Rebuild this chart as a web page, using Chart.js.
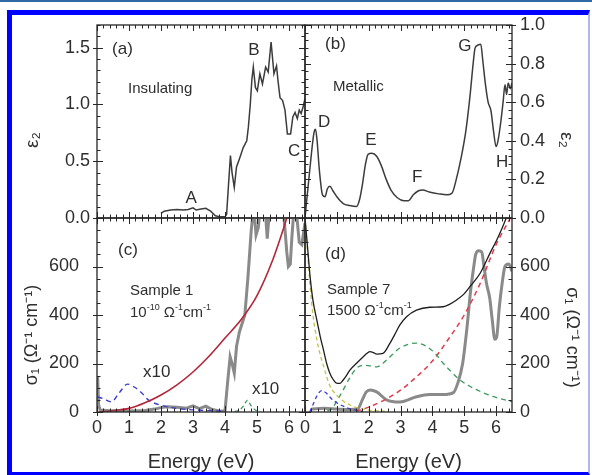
<!DOCTYPE html>
<html>
<head>
<meta charset="UTF-8">
<title>Dielectric function and optical conductivity</title>
<script src="https://cdn.jsdelivr.net/npm/chart.js"></script>
<style>
  body { margin: 0; background: #fff; }
  #wrap { position: relative; width: 592px; height: 475px; overflow: hidden; }
  #topline { position: absolute; left: 0; top: 0; width: 592px; height: 2px; background: #2f6aa6; }
  #frame { position: absolute; left: 7px; top: 10px; width: 576px; height: 457px;
           border-left: 5px solid #0000ff; border-top: 5px solid #0000ff;
           border-right: 2px solid #b4b4f0; border-bottom: 3px solid #0000ff; }
  canvas { position: absolute; left: 0; top: 0; }
</style>
</head>
<body>
<div id="wrap">
  <div id="topline"></div>
  <div id="frame"></div>
  <canvas id="pa" width="592" height="475"></canvas>
  <canvas id="pb" width="592" height="475"></canvas>
  <canvas id="pc" width="592" height="475"></canvas>
  <canvas id="pd" width="592" height="475"></canvas>
</div>
<script>
// (a) eps2, insulating
const aEnergy = [2.0, 2.1, 2.3, 2.5, 2.7, 2.85, 3.0, 3.1, 3.25, 3.4, 3.55, 3.7, 3.85, 4.0, 4.05, 4.1, 4.17, 4.22, 4.29, 4.36,
                 4.45, 4.57, 4.68, 4.73, 4.79, 4.84, 4.885, 4.95, 5.01, 5.09, 5.17, 5.27, 5.35, 5.44, 5.53, 5.61, 5.66, 5.72, 5.8, 5.875,
                 5.95, 6.05, 6.12, 6.19, 6.26, 6.32, 6.38, 6.44, 6.5];
const aEps2 = [0.04, 0.06, 0.07, 0.075, 0.07, 0.075, 0.09, 0.07, 0.08, 0.085, 0.06, 0.02, 0.01, 0.01, 0.03, 0.25, 0.55, 0.4, 0.27, 0.45,
               0.52, 0.62, 0.68, 0.8, 1.0, 1.22, 1.33, 1.15, 1.12, 1.27, 1.18, 1.33, 1.285, 1.55, 1.27, 1.34, 1.2, 1.06, 1.035, 0.95,
               0.74, 0.74, 0.89, 0.93, 0.875, 0.95, 0.92, 0.98, 1.05];

// (b) eps2, metallic
const bEnergy = [0.0, 0.15, 0.28, 0.33, 0.38, 0.45, 0.55, 0.63, 0.7, 0.78, 0.88, 1.0, 1.2, 1.4, 1.62, 1.72, 1.8, 1.9, 1.98, 2.1,
                 2.25, 2.4, 2.55, 2.7, 2.9, 3.1, 3.25, 3.4, 3.55, 3.7, 3.9, 4.2, 4.45, 4.62, 4.75, 4.9, 5.05, 5.18, 5.28, 5.34,
                 5.42, 5.52, 5.58, 5.66, 5.75, 5.84, 5.92, 6.0, 6.06, 6.15, 6.22, 6.28, 6.33, 6.38, 6.45, 6.5];
const bEps2 = [0.0, 0.25, 0.44, 0.46, 0.4, 0.25, 0.12, 0.11, 0.15, 0.165, 0.14, 0.11, 0.075, 0.065, 0.06, 0.1, 0.17, 0.28, 0.33, 0.335,
               0.32, 0.27, 0.2, 0.145, 0.105, 0.09, 0.09, 0.12, 0.14, 0.145, 0.135, 0.125, 0.12, 0.13, 0.2, 0.31, 0.45, 0.63, 0.8, 0.88,
               0.895, 0.9, 0.82, 0.7, 0.6, 0.555, 0.45, 0.37, 0.4, 0.5, 0.6, 0.69, 0.64, 0.7, 0.67, 0.7];

// (c) sigma1, sample 1
const cExpE = [0.02, 0.05, 0.1, 0.5, 1.0, 1.5, 1.8, 2.0, 2.2, 2.5, 2.8, 3.0, 3.2, 3.4, 3.6, 3.85, 4.0, 4.08, 4.16, 4.22,
               4.29, 4.36, 4.45, 4.62, 4.72, 4.82, 4.9, 4.97, 5.04, 5.12, 5.25, 5.32, 5.4, 5.6, 5.8, 5.87, 5.93, 5.98, 6.04, 6.09,
               6.15, 6.25, 6.32, 6.4, 6.5];
const cExpS = [145, 30, 8, 4, 4, 6, 12, 18, 22, 20, 16, 25, 14, 24, 10, 3, 5, 120, 228, 200,
               160, 270, 330, 400, 560, 750, 850, 730, 760, 860, 850, 715, 850, 900, 860, 760, 660, 600, 610, 720,
               830, 800, 700, 690, 780];
const cFitE = [0.1, 0.5, 1.0, 1.5, 2.0, 2.5, 3.0, 3.5, 4.0, 4.5, 5.0, 5.5, 5.8, 6.0];
const cFitS = [0, 6, 15, 38, 70, 112, 165, 230, 305, 380, 480, 630, 745, 830];
const cBlueE = [0.02, 0.2, 0.45, 0.7, 0.95, 1.2, 1.4, 1.6, 2.0, 2.6, 3.1, 3.6, 4.0];
const cBlueS = [62, 55, 42, 80, 115, 100, 78, 50, 28, 13, 8, 5, 3];
const cGreenE = [4.3, 4.45, 4.58, 4.7, 4.82, 4.95, 5.1];
const cGreenS = [2, 8, 25, 48, 25, 8, 2];

// (d) sigma1, sample 7
const dExpE = [0.2, 0.6, 1.0, 1.4, 1.65, 1.8, 1.92, 2.04, 2.25, 2.56, 2.98, 3.5, 3.92, 4.34, 4.66, 4.8, 4.95, 5.08, 5.2, 5.3,
               5.36, 5.45, 5.55, 5.62, 5.7, 5.8, 5.88, 5.96, 6.02, 6.1, 6.2, 6.28, 6.4, 6.5];
const dExpS = [12, 15, 12, 10, 12, 50, 82, 91, 83, 50, 41, 63, 72, 72, 80, 120, 200, 340, 500, 600,
               650, 665, 660, 600, 530, 470, 380, 300, 310, 430, 540, 600, 610, 580];
const dTotE = [0.0, 0.08, 0.16, 0.25, 0.37, 0.48, 0.58, 0.68, 0.78, 0.88, 0.99, 1.1, 1.2, 1.3, 1.41, 1.62, 1.83, 1.95, 2.04, 2.15,
               2.25, 2.45, 2.67, 2.82, 2.98, 3.19, 3.5, 3.92, 4.34, 4.55, 4.76, 4.98, 5.18, 5.5, 5.81, 6.07, 6.32, 6.4];
const dTotS = [800, 680, 558, 460, 380, 310, 256, 200, 160, 135, 119, 118, 132, 150, 173, 201, 228, 242, 249, 245,
               239, 242, 284, 320, 359, 393, 420, 432, 434, 445, 462, 485, 517, 572, 655, 723, 800, 830];
const dDrudeE = [0.0, 0.08, 0.16, 0.25, 0.37, 0.48, 0.58, 0.78, 0.99, 1.2, 1.4, 1.62, 2.0, 2.5];
const dDrudeS = [800, 660, 520, 400, 300, 235, 190, 108, 70, 45, 30, 18, 8, 3];
const dBlueE = [0.15, 0.25, 0.38, 0.52, 0.65, 0.83, 1.0, 1.2, 1.5, 1.8];
const dBlueS = [0, 30, 68, 88, 80, 55, 38, 24, 10, 3];
const dGreenE = [0.7, 0.85, 1.0, 1.2, 1.4, 1.62, 1.83, 2.04, 2.25, 2.56, 2.98, 3.5, 3.82, 4.1, 4.34, 4.6, 4.87, 5.15, 5.4, 5.92, 6.5];
const dGreenS = [3, 15, 45, 91, 140, 181, 193, 190, 186, 214, 264, 284, 270, 240, 201, 165, 132, 108, 91, 63, 43];
const dRedE = [1.6, 2.0, 2.5, 3.0, 3.5, 4.0, 4.5, 5.0, 5.5, 6.0, 6.45];
const dRedS = [3, 20, 50, 90, 145, 210, 300, 400, 530, 690, 800];

// in-plot labels, placed in data coordinates
const notesA = [
  { x: 0.47, y: 1.49, parts: [['(a)']], size: 17 },
  { x: 0.97, y: 1.14, parts: [['Insulating']], size: 15 },
  { x: 2.94, y: 0.175, parts: [['A']], size: 17, center: true },
  { x: 4.9, y: 1.48, parts: [['B']], size: 17, center: true },
  { x: 6.16, y: 0.59, parts: [['C']], size: 17, center: true }
];
const notesB = [
  { x: 0.63, y: 0.9, parts: [['(b)']], size: 17 },
  { x: 0.88, y: 0.68, parts: [['Metallic']], size: 15 },
  { x: 0.6, y: 0.495, parts: [['D']], size: 17, center: true },
  { x: 2.07, y: 0.4, parts: [['E']], size: 17, center: true },
  { x: 3.52, y: 0.21, parts: [['F']], size: 17, center: true },
  { x: 5.02, y: 0.887, parts: [['G']], size: 17, center: true },
  { x: 6.19, y: 0.287, parts: [['H']], size: 17, center: true }
];
const notesC = [
  { x: 0.66, y: 666, parts: [['(c)']], size: 17 },
  { x: 1.03, y: 499, parts: [['Sample 1']], size: 15 },
  { x: 1.03, y: 408, parts: [['10'], ['-10', 1], [' \u03A9'], ['-1', 1], ['cm'], ['-1', 1]], size: 15 },
  { x: 1.44, y: 165, parts: [['x10']], size: 17 },
  { x: 4.84, y: 95, parts: [['x10']], size: 17 }
];
const notesD = [
  { x: 0.63, y: 652, parts: [['(d)']], size: 17 },
  { x: 0.69, y: 503, parts: [['Sample 7']], size: 15 },
  { x: 0.69, y: 416, parts: [['1500 \u03A9'], ['-1', 1], ['cm'], ['-1', 1]], size: 15 }
];

const FONT = '"Liberation Sans", Arial, sans-serif';
Chart.defaults.font.family = FONT;
Chart.defaults.color = '#2e2e2e';

function pts(xs, ys) {
  return xs.map((x, i) => ({ x: x, y: ys[i] }));
}

function line(data, color, width, dash, smooth) {
  return {
    data: data,
    borderColor: color,
    borderWidth: width,
    borderDash: dash || [],
    pointRadius: 0,
    fill: false,
    cubicInterpolationMode: smooth ? 'monotone' : 'default',
    tension: 0
  };
}

function eachTick(min, max, minor, major, fn) {
  const n = Math.round((max - min) / minor);
  for (let i = 0; i <= n; i++) {
    const v = min + i * minor;
    if (v > max + 1e-9) break;
    const r = v / major;
    fn(v, Math.abs(r - Math.round(r)) < 1e-6);
  }
}

// frame, in/out ticks and in-plot text
const boxPlugin = {
  id: 'box',
  afterDraw(chart, args, o) {
    const { ctx, chartArea: ca } = chart;
    const xs = chart.scales.x, ys = chart.scales.y;
    ctx.save();
    ctx.strokeStyle = '#262626';
    ctx.lineWidth = 1.3;
    ctx.strokeRect(ca.left, ca.top, ca.right - ca.left, ca.bottom - ca.top);
    ctx.lineWidth = 1;
    ctx.beginPath();
    eachTick(xs.min, xs.max, o.xMinor, 1, (v, major) => {
      const px = Math.round(xs.getPixelForValue(v)) + 0.5;
      const len = major ? 6 : 3.5;
      ctx.moveTo(px, ca.bottom); ctx.lineTo(px, ca.bottom - len);
      ctx.moveTo(px, ca.top); ctx.lineTo(px, ca.top + len);
      if (major && o.xOut) { ctx.moveTo(px, ca.bottom); ctx.lineTo(px, ca.bottom + 4); }
    });
    eachTick(ys.min, ys.max, o.yMinor, o.yMajor, (v, major) => {
      const py = Math.round(ys.getPixelForValue(v)) + 0.5;
      const len = major ? 6 : 3.5;
      ctx.moveTo(ca.left, py); ctx.lineTo(ca.left + len, py);
      ctx.moveTo(ca.right, py); ctx.lineTo(ca.right - len, py);
      if (major) {
        if (o.ySide === 'left') { ctx.moveTo(ca.left, py); ctx.lineTo(ca.left - 4, py); }
        else { ctx.moveTo(ca.right, py); ctx.lineTo(ca.right + 4, py); }
      }
    });
    ctx.stroke();

    ctx.fillStyle = '#2e2e2e';
    ctx.textBaseline = 'middle';
    ctx.textAlign = 'left';
    (o.notes || []).forEach(n => {
      const sub = Math.round(n.size * 0.62);
      let w = 0;
      n.parts.forEach(p => {
        ctx.font = (p[1] ? sub : n.size) + 'px ' + FONT;
        w += ctx.measureText(p[0]).width;
      });
      let px = xs.getPixelForValue(n.x);
      const py = ys.getPixelForValue(n.y);
      if (n.center) px -= w / 2;
      n.parts.forEach(p => {
        ctx.font = (p[1] ? sub : n.size) + 'px ' + FONT;
        ctx.fillText(p[0], px, p[1] ? py - n.size * 0.38 : py);
        px += ctx.measureText(p[0]).width;
      });
    });
    ctx.restore();
  }
};

function xAxis(show) {
  const ax = {
    type: 'linear', min: 0, max: 6.5, display: show,
    grid: { display: false, drawTicks: false },
    border: { display: false },
    ticks: { stepSize: 1, includeBounds: false, padding: 5, font: { size: 18 } },
    title: { display: true, text: 'Energy (eV)', font: { size: 20 }, padding: { top: 0, bottom: 1 } }
  };
  if (show) ax.afterFit = s => { s.height = 63; };
  return ax;
}

function yAxis(pos, max, step, width, pad, fmt, title, titleSize, titlePad) {
  return {
    type: 'linear', position: pos, min: 0, max: max,
    afterFit: s => { s.width = width; },
    grid: { display: false, drawTicks: false },
    border: { display: false },
    ticks: { stepSize: step, includeBounds: false, padding: pad, font: { size: 18 }, callback: fmt },
    title: { display: true, text: title, font: { size: titleSize }, padding: { top: titlePad, bottom: 0 } }
  };
}

function panel(id, pad, datasets, xs, ys, box) {
  return new Chart(document.getElementById(id), {
    type: 'line',
    data: { datasets: datasets },
    options: {
      responsive: false,
      animation: false,
      events: [],
      layout: { padding: pad },
      plugins: { legend: { display: false }, tooltip: { enabled: false }, box: box },
      scales: { x: xs, y: ys }
    },
    plugins: [boxPlugin]
  });
}

const oneDec = v => v.toFixed(1);
const sigmaFmt = v => (v >= 800 ? '' : v);
const eps2Left = '\u03B5\u2082' + '       ';
const eps2Right = '       ' + '\u03B5\u2082';
const sigLeft = '\u03C3\u2081 (\u03A9\u207B\u00B9 cm\u207B\u00B9)' + '        ';
const sigRight = '         ' + '\u03C3\u2081 (\u03A9\u207B\u00B9 cm\u207B\u00B9)';

panel('pa', { left: 20, top: 25, right: 287, bottom: 257 },
  [line(pts(aEnergy, aEps2), '#3c3c3c', 1.5, null, false)],
  xAxis(false),
  yAxis('left', 1.7, 0.5, 77, 7, oneDec, eps2Left, 19, 1),
  { xMinor: 0.2, yMajor: 0.5, yMinor: 0.1, ySide: 'left', notes: notesA });

panel('pb', { left: 305, top: 25, right: 0, bottom: 257 },
  [line(pts(bEnergy, bEps2), '#3c3c3c', 1.5, null, true)],
  xAxis(false),
  yAxis('right', 1.0, 0.2, 80, 8, oneDec, eps2Right, 19, 14),
  { xMinor: 0.2, yMajor: 0.2, yMinor: 0.04, ySide: 'right', notes: notesB });

panel('pc', { left: 20, top: 218, right: 287, bottom: 0 },
  [
    line(pts(cFitE, cFitS), '#b32638', 1.6, null, true),
    line(pts(cBlueE, cBlueS), '#3a3ad4', 1.4, [5, 4], true),
    line(pts(cGreenE, cGreenS), '#3c9a5c', 1.3, [4, 3], true),
    line(pts(cExpE, cExpS), '#8a8a8a', 3, null, false)
  ],
  xAxis(true),
  yAxis('left', 800, 200, 77, 18, sigmaFmt, sigLeft, 18, 1),
  { xMinor: 0.2, yMajor: 200, yMinor: 50, ySide: 'left', xOut: true, notes: notesC });

panel('pd', { left: 305, top: 218, right: 0, bottom: 0 },
  [
    line(pts(dTotE, dTotS), '#1e1e1e', 1.3, null, true),
    line(pts(dDrudeE, dDrudeS), '#c4c048', 1.3, [4, 3], true),
    line(pts(dBlueE, dBlueS), '#3a3ad4', 1.3, [4, 3], true),
    line(pts(dGreenE, dGreenS), '#3c9a5c', 1.3, [5, 4], true),
    line(pts(dRedE, dRedS), '#e23a4c', 1.5, [5, 4], true),
    line(pts(dExpE, dExpS), '#8a8a8a', 3, null, true)
  ],
  xAxis(true),
  yAxis('right', 800, 200, 80, 8, sigmaFmt, sigRight, 18, 9),
  { xMinor: 0.2, yMajor: 200, yMinor: 50, ySide: 'right', xOut: true, notes: notesD });
</script>
</body>
</html>
